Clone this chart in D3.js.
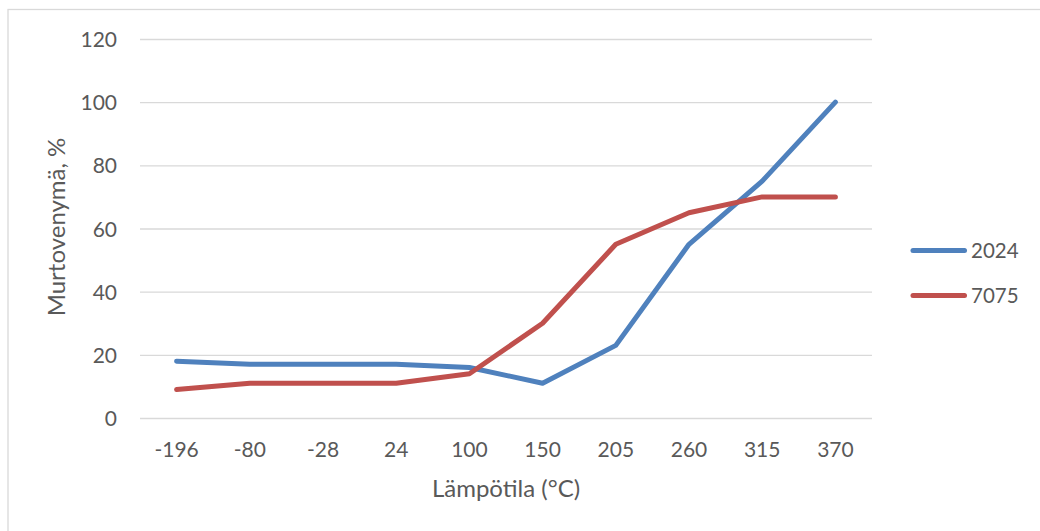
<!DOCTYPE html>
<html>
<head>
<meta charset="utf-8">
<script src="https://cdn.jsdelivr.net/npm/d3@7"></script>
<style>
  body { margin: 0; background: #fff; }
  text { font-family: Lato, "Open Sans", sans-serif; fill: #595959; }
</style>
</head>
<body>
<script>
const categories = ['-196', '-80', '-28', '24', '100', '150', '205', '260', '315', '370'];
const series2024 = [18, 17, 17, 17, 16, 11, 23, 55, 75, 100];
const series7075 = [9, 11, 11, 11, 14, 30, 55, 65, 70, 70];
const yTicks = [0, 20, 40, 60, 80, 100, 120];
const seriesNames = ['2024', '7075'];
const colors = ['#4f81bd', '#c0504d'];

const width = 1040;
const height = 531;
const plot = { left: 140, right: 872, top: 39, bottom: 418 };

const svg = d3.select('body')
    .append('svg')
    .attr('width', width)
    .attr('height', height);

// outer chart border
svg.append('rect')
    .attr('x', 8)
    .attr('y', 9.5)
    .attr('width', width)
    .attr('height', height)
    .attr('fill', 'none')
    .attr('stroke', '#d9d9d9')
    .attr('stroke-width', 1.3);

const xScale = d3.scaleBand()
    .domain(categories)
    .range([plot.left, plot.right]);

const yScale = d3.scaleLinear()
    .domain([0, 120])
    .range([plot.bottom, plot.top]);

// gridlines + y labels
const yAxis = d3.axisLeft(yScale)
    .tickValues(yTicks)
    .tickSize(-(plot.right - plot.left))
    .tickPadding(23);

const gy = svg.append('g')
    .attr('transform', 'translate(' + plot.left + ',0)')
    .call(yAxis);
gy.select('.domain').remove();
gy.selectAll('line').attr('stroke', '#d9d9d9').attr('stroke-width', 1.3);
gy.selectAll('text')
    .style('font-size', '21px')
    .attr('dy', '0.36em');

const xAxis = d3.axisBottom(xScale)
    .tickSize(0)
    .tickPadding(24);

const gx = svg.append('g')
    .attr('transform', 'translate(0,' + plot.bottom + ')')
    .call(xAxis);
gx.select('.domain').remove();
gx.selectAll('text')
    .style('font-size', '21px');

// axis titles
svg.append('text')
    .attr('transform', 'translate(65,227) rotate(-90)')
    .attr('text-anchor', 'middle')
    .style('font-size', '24px')
    .text('Murtovenymä, %');

svg.append('text')
    .attr('x', 506)
    .attr('y', 497)
    .attr('text-anchor', 'middle')
    .style('font-size', '24px')
    .text('Lämpötila (°C)');

const line = d3.line()
    .x((d, i) => xScale(categories[i]) + xScale.bandwidth() / 2)
    .y((d) => yScale(d));

[series2024, series7075].forEach((s, k) => {
    svg.append('path')
        .datum(s)
        .attr('d', line)
        .attr('fill', 'none')
        .attr('stroke', colors[k])
        .attr('stroke-width', 5)
        .attr('stroke-linecap', 'round')
        .attr('stroke-linejoin', 'round');
});

// legend
const legend = svg.append('g');
seriesNames.forEach((name, k) => {
    const y = 250.5 + k * 45;
    legend.append('line')
        .attr('x1', 913).attr('x2', 964.5)
        .attr('y1', y).attr('y2', y)
        .attr('stroke', colors[k])
        .attr('stroke-width', 5)
        .attr('stroke-linecap', 'round');
    legend.append('text')
        .attr('x', 971)
        .attr('y', y)
        .attr('dy', '0.36em')
        .style('font-size', '20.5px')
        .text(name);
});
</script>
</body>
</html>
